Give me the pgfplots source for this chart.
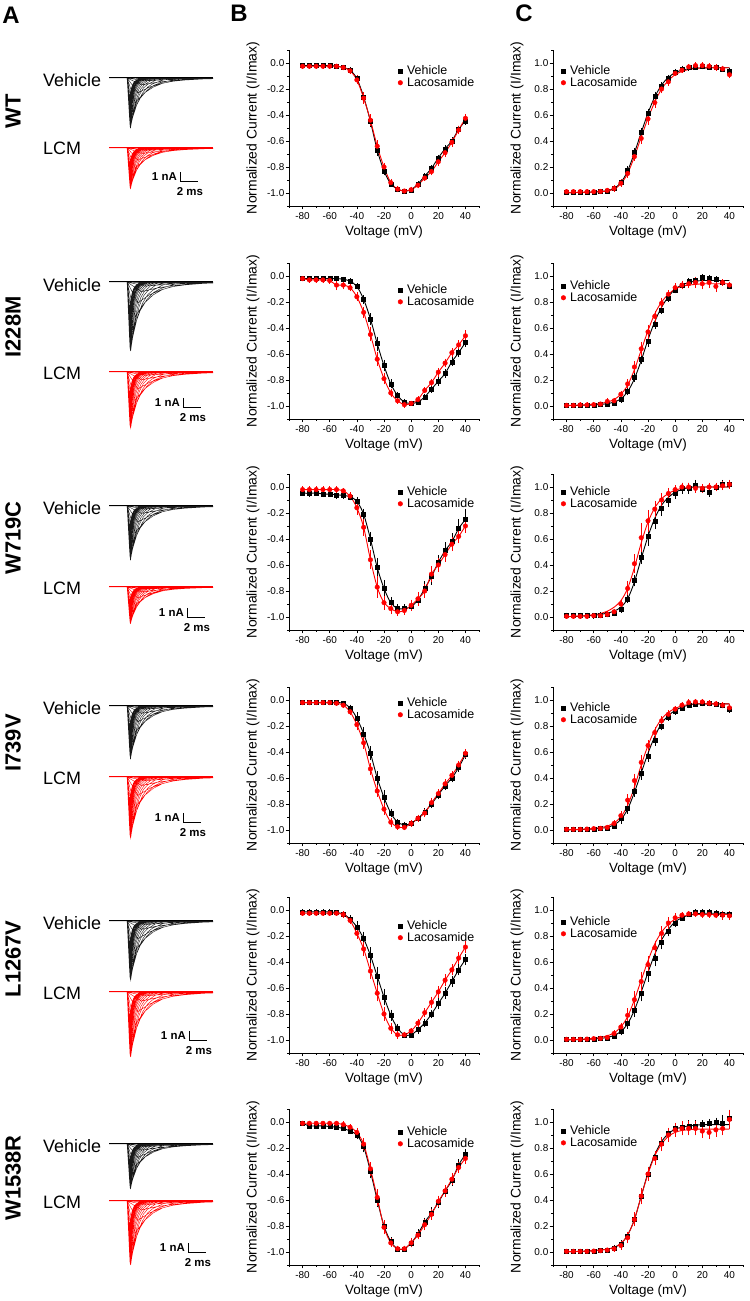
\documentclass[border=0pt]{standalone}
\usepackage{pgfplots}
\usepackage{pgfplotstable}
\pgfplotsset{compat=1.18}
\usepackage{fontspec}
\setmainfont{Liberation Sans}

% ---------- current traces (nA vs ms), one family ----------
\pgfplotstableread{
t i
0 0
11.5 0
nan nan
0 0
2 0
4.5 -0.08
7 -0.05
9.5 -0.03
11.5 -0.02
nan nan
0 0
2 0
4 -0.3
6.25 -0.18
8.5 -0.11
10.75 -0.066
11.5 -0.06
nan nan
0 0
2 0
3.6 -0.7
5.35 -0.43
7.1 -0.26
8.85 -0.15
10.6 -0.1
11.5 -0.08
nan nan
0 0
2 0
3.2 -1.5
4.5 -0.92
5.8 -0.56
7.1 -0.33
8.4 -0.21
11 -0.075
11.5 -0.06
nan nan
0 0
2 0
2.9 -2.5
3.9 -1.53
4.9 -0.93
5.9 -0.55
6.9 -0.35
8.9 -0.13
10.9 -0.045
11.5 -0.04
nan nan
0 0
2 0
2.7 -3.4
3.45 -2.07
4.2 -1.26
4.95 -0.75
5.7 -0.48
7.2 -0.17
8.7 -0.06
11.5 -0.01
nan nan
0 0
2 0
2.55 -4.2
3.13 -2.56
3.7 -1.55
4.28 -0.92
4.85 -0.59
6 -0.21
7.15 -0.08
11.5 0
nan nan
0 0
2 0
2.45 -4.7
2.9 -2.87
3.35 -1.74
3.8 -1.03
4.25 -0.66
5.15 -0.24
6.05 -0.09
11.5 0
nan nan
0 0
2 0
2.4 -5
2.78 -3.05
3.15 -1.85
3.53 -1.1
3.9 -0.7
4.65 -0.25
5.4 -0.09
11.5 0
nan nan
0 0
2 0
2.35 -4.95
2.68 -3.02
3 -1.83
3.33 -1.09
3.65 -0.69
4.3 -0.25
4.95 -0.09
11.5 0
nan nan
0 0
2 0
2.32 -4.8
2.61 -2.93
2.89 -1.78
3.18 -1.06
3.46 -0.67
4.03 -0.24
4.6 -0.09
11.5 0
nan nan
0 0
2 0
2.3 -4.55
2.55 -2.78
2.8 -1.68
3.05 -1.0
3.3 -0.64
3.8 -0.23
4.3 -0.08
11.5 0
nan nan
0 0
2 0
2.28 -4.3
2.51 -2.62
2.73 -1.59
2.96 -0.95
3.18 -0.6
3.63 -0.22
4.08 -0.08
11.5 0
nan nan
0 0
2 0
2.26 -4.0
2.47 -2.44
2.68 -1.48
2.89 -0.88
3.1 -0.56
3.52 -0.2
3.94 -0.07
11.5 0
nan nan
0 0
2 0
2.25 -3.7
2.45 -2.26
2.65 -1.37
2.85 -0.81
3.05 -0.52
3.45 -0.19
3.85 -0.07
11.5 0
nan nan
0 0
2 0
2.24 -3.3
2.43 -2.01
2.62 -1.22
2.81 -0.73
3.0 -0.46
3.38 -0.17
3.76 -0.06
11.5 0
nan nan
0 0
2 0
2.23 -2.9
2.41 -1.77
2.59 -1.07
2.77 -0.64
2.95 -0.41
3.31 -0.15
3.67 -0.05
11.5 0
nan nan
0 0
2 0
2.22 -2.55
2.4 -1.56
2.57 -0.94
2.75 -0.56
2.92 -0.36
3.27 -0.13
3.62 -0.05
11.5 0
nan nan
0 0
2 0
2.21 -2.2
2.38 -1.34
2.55 -0.81
2.72 -0.48
2.89 -0.31
3.23 -0.11
3.57 -0.04
11.5 0
}\traces
\pgfplotstableread{
t i
0 0
11.5 0
}\baseline

% ---------- I-V data (B) ----------
\pgfplotstableread{
v mv ev ml el
-80 -0.02 0.005 -0.025 0.005
-75 -0.02 0.005 -0.025 0.005
-70 -0.02 0.005 -0.025 0.005
-65 -0.02 0.005 -0.025 0.005
-60 -0.02 0.005 -0.025 0.005
-55 -0.025 0.005 -0.025 0.005
-50 -0.035 0.005 -0.035 0.008
-45 -0.055 0.008 -0.06 0.01
-40 -0.12 0.015 -0.13 0.02
-35 -0.26 0.02 -0.27 0.03
-30 -0.45 0.03 -0.44 0.03
-25 -0.67 0.03 -0.64 0.03
-20 -0.83 0.02 -0.80 0.02
-15 -0.93 0.01 -0.92 0.015
-10 -0.97 0.01 -0.97 0.01
-5 -0.985 0.005 -0.985 0.005
0 -0.975 0.005 -0.975 0.01
5 -0.93 0.01 -0.94 0.01
10 -0.87 0.01 -0.885 0.01
15 -0.81 0.01 -0.835 0.015
20 -0.73 0.01 -0.76 0.015
25 -0.66 0.015 -0.69 0.02
30 -0.60 0.015 -0.61 0.02
35 -0.51 0.015 -0.515 0.02
40 -0.445 0.015 -0.425 0.02
}\BI
\pgfplotstableread{
v mv ev ml el
-80 -0.02 0.005 -0.02 0.005
-75 -0.02 0.005 -0.03 0.01
-70 -0.02 0.005 -0.03 0.01
-65 -0.02 0.005 -0.03 0.01
-60 -0.02 0.005 -0.035 0.01
-55 -0.02 0.005 -0.07 0.025
-50 -0.025 0.005 -0.07 0.02
-45 -0.04 0.01 -0.09 0.015
-40 -0.08 0.01 -0.16 0.02
-35 -0.18 0.02 -0.28 0.03
-30 -0.33 0.03 -0.45 0.04
-25 -0.52 0.04 -0.64 0.04
-20 -0.69 0.03 -0.79 0.03
-15 -0.83 0.02 -0.90 0.02
-10 -0.92 0.01 -0.96 0.01
-5 -0.97 0.01 -0.99 0.01
0 -0.98 0.005 -0.98 0.005
5 -0.97 0.01 -0.95 0.01
10 -0.93 0.01 -0.88 0.01
15 -0.87 0.015 -0.82 0.015
20 -0.81 0.02 -0.74 0.02
25 -0.75 0.02 -0.67 0.02
30 -0.66 0.02 -0.59 0.02
35 -0.59 0.02 -0.53 0.02
40 -0.51 0.02 -0.46 0.03
}\BII
\pgfplotstableread{
v mv ev ml el
-80 -0.045 0.01 -0.02 0.01
-75 -0.05 0.01 -0.02 0.01
-70 -0.045 0.01 -0.02 0.01
-65 -0.055 0.01 -0.02 0.01
-60 -0.055 0.01 -0.02 0.01
-55 -0.06 0.015 -0.02 0.01
-50 -0.065 0.015 -0.03 0.01
-45 -0.075 0.015 -0.07 0.015
-40 -0.11 0.02 -0.16 0.04
-35 -0.21 0.03 -0.31 0.05
-30 -0.40 0.04 -0.56 0.06
-25 -0.62 0.06 -0.77 0.07
-20 -0.78 0.05 -0.89 0.04
-15 -0.89 0.03 -0.935 0.03
-10 -0.935 0.02 -0.96 0.02
-5 -0.935 0.02 -0.95 0.02
0 -0.92 0.02 -0.91 0.03
5 -0.87 0.03 -0.86 0.04
10 -0.78 0.04 -0.80 0.04
15 -0.69 0.05 -0.67 0.05
20 -0.58 0.04 -0.60 0.04
25 -0.49 0.05 -0.52 0.04
30 -0.42 0.05 -0.44 0.04
35 -0.32 0.06 -0.38 0.04
40 -0.25 0.07 -0.30 0.04
}\BIII
\pgfplotstableread{
v mv ev ml el
-80 -0.02 0.005 -0.02 0.005
-75 -0.02 0.005 -0.02 0.005
-70 -0.02 0.005 -0.02 0.005
-65 -0.02 0.005 -0.02 0.005
-60 -0.02 0.005 -0.02 0.005
-55 -0.02 0.005 -0.025 0.005
-50 -0.025 0.005 -0.04 0.01
-45 -0.06 0.01 -0.09 0.015
-40 -0.14 0.03 -0.19 0.03
-35 -0.26 0.04 -0.33 0.03
-30 -0.41 0.04 -0.53 0.03
-25 -0.60 0.04 -0.70 0.03
-20 -0.75 0.04 -0.84 0.03
-15 -0.87 0.02 -0.94 0.02
-10 -0.94 0.01 -0.975 0.01
-5 -0.96 0.01 -0.98 0.01
0 -0.95 0.01 -0.95 0.01
5 -0.91 0.01 -0.91 0.015
10 -0.86 0.015 -0.87 0.02
15 -0.80 0.02 -0.79 0.02
20 -0.73 0.02 -0.72 0.02
25 -0.66 0.02 -0.645 0.02
30 -0.60 0.02 -0.58 0.02
35 -0.52 0.02 -0.50 0.02
40 -0.42 0.02 -0.41 0.02
}\BIV
\pgfplotstableread{
v mv ev ml el
-80 -0.015 0.005 -0.025 0.005
-75 -0.015 0.005 -0.025 0.005
-70 -0.015 0.005 -0.025 0.005
-65 -0.015 0.005 -0.025 0.005
-60 -0.015 0.005 -0.025 0.005
-55 -0.02 0.005 -0.025 0.005
-50 -0.03 0.005 -0.035 0.01
-45 -0.07 0.015 -0.08 0.015
-40 -0.13 0.03 -0.18 0.03
-35 -0.22 0.04 -0.30 0.04
-30 -0.35 0.05 -0.47 0.05
-25 -0.51 0.06 -0.64 0.05
-20 -0.67 0.05 -0.80 0.04
-15 -0.81 0.03 -0.91 0.03
-10 -0.91 0.02 -0.96 0.02
-5 -0.96 0.01 -0.96 0.01
0 -0.96 0.01 -0.93 0.01
5 -0.92 0.02 -0.87 0.02
10 -0.87 0.02 -0.79 0.02
15 -0.80 0.02 -0.71 0.03
20 -0.72 0.03 -0.63 0.03
25 -0.64 0.03 -0.54 0.03
30 -0.55 0.03 -0.46 0.03
35 -0.46 0.03 -0.37 0.03
40 -0.38 0.03 -0.285 0.03
}\BV
\pgfplotstableread{
v mv ev ml el
-80 -0.01 0.005 -0.01 0.005
-75 -0.03 0.005 -0.01 0.005
-70 -0.03 0.005 -0.01 0.005
-65 -0.03 0.005 -0.01 0.005
-60 -0.035 0.005 -0.01 0.005
-55 -0.04 0.005 -0.01 0.005
-50 -0.05 0.005 -0.02 0.01
-45 -0.07 0.01 -0.04 0.01
-40 -0.10 0.02 -0.08 0.02
-35 -0.19 0.03 -0.17 0.03
-30 -0.38 0.04 -0.36 0.04
-25 -0.60 0.04 -0.58 0.05
-20 -0.80 0.03 -0.81 0.04
-15 -0.92 0.02 -0.93 0.02
-10 -0.975 0.01 -0.975 0.01
-5 -0.975 0.01 -0.975 0.01
0 -0.93 0.02 -0.93 0.02
5 -0.86 0.02 -0.87 0.02
10 -0.77 0.02 -0.79 0.03
15 -0.70 0.03 -0.71 0.03
20 -0.62 0.03 -0.61 0.03
25 -0.53 0.03 -0.53 0.03
30 -0.45 0.03 -0.44 0.03
35 -0.33 0.03 -0.35 0.03
40 -0.25 0.03 -0.28 0.03
}\BVI

% ---------- conductance data (C) ----------
\pgfplotstableread{
v mv ev fv ml el fl
-80 0.005 0.005 0.002 0.01 0.005 0.002
-75 0.005 0.005 0.003 0.01 0.005 0.003
-70 0.005 0.005 0.004 0.01 0.005 0.004
-65 0.005 0.005 0.006 0.01 0.005 0.005
-60 0.007 0.005 0.008 0.01 0.005 0.007
-55 0.01 0.005 0.012 0.012 0.005 0.01
-50 0.015 0.005 0.018 0.02 0.005 0.015
-45 0.035 0.008 0.035 0.035 0.01 0.03
-40 0.08 0.01 0.08 0.075 0.015 0.07
-35 0.175 0.015 0.17 0.15 0.02 0.15
-30 0.31 0.02 0.31 0.28 0.02 0.28
-25 0.465 0.02 0.465 0.42 0.03 0.43
-20 0.615 0.02 0.615 0.57 0.03 0.575
-15 0.745 0.02 0.74 0.695 0.025 0.70
-10 0.825 0.015 0.83 0.80 0.02 0.80
-5 0.885 0.01 0.89 0.855 0.015 0.865
0 0.93 0.01 0.925 0.92 0.01 0.91
5 0.955 0.01 0.945 0.945 0.01 0.935
10 0.965 0.01 0.955 0.97 0.01 0.95
15 0.97 0.01 0.96 0.98 0.01 0.958
20 0.975 0.01 0.962 0.98 0.01 0.962
25 0.97 0.01 0.963 0.975 0.01 0.963
30 0.965 0.01 0.963 0.965 0.01 0.963
35 0.955 0.01 0.963 0.955 0.01 0.963
40 0.94 0.01 0.963 0.91 0.015 0.963
}\CI
\pgfplotstableread{
v mv ev fv ml el fl
-80 0.005 0.005 0.003 0.005 0.005 0.004
-75 0.005 0.005 0.004 0.005 0.005 0.005
-70 0.005 0.005 0.005 0.008 0.005 0.007
-65 0.005 0.005 0.006 0.008 0.005 0.01
-60 0.007 0.005 0.008 0.01 0.005 0.014
-55 0.01 0.005 0.012 0.015 0.005 0.02
-50 0.015 0.005 0.018 0.035 0.01 0.03
-45 0.02 0.005 0.03 0.04 0.01 0.05
-40 0.05 0.01 0.055 0.09 0.015 0.09
-35 0.11 0.015 0.11 0.17 0.02 0.16
-30 0.22 0.02 0.21 0.30 0.03 0.28
-25 0.36 0.025 0.35 0.44 0.04 0.43
-20 0.50 0.03 0.51 0.57 0.04 0.58
-15 0.63 0.025 0.65 0.69 0.03 0.71
-10 0.74 0.02 0.76 0.79 0.03 0.80
-5 0.83 0.015 0.84 0.86 0.02 0.86
0 0.89 0.01 0.90 0.91 0.02 0.90
5 0.93 0.01 0.93 0.93 0.02 0.92
10 0.96 0.01 0.95 0.94 0.02 0.93
15 0.97 0.01 0.96 0.95 0.03 0.935
20 0.99 0.01 0.965 0.94 0.03 0.94
25 0.985 0.01 0.965 0.95 0.03 0.94
30 0.975 0.01 0.965 0.92 0.03 0.94
35 0.95 0.01 0.965 0.95 0.01 0.94
40 0.925 0.01 0.965 0.93 0.01 0.94
}\CII
\pgfplotstableread{
v mv ev fv ml el fl
-80 0.01 0.01 0.003 0.005 0.005 0.003
-75 0.01 0.01 0.004 0.005 0.005 0.005
-70 0.01 0.01 0.006 0.005 0.005 0.008
-65 0.01 0.01 0.009 0.005 0.005 0.012
-60 0.01 0.01 0.013 0.01 0.005 0.018
-55 0.015 0.01 0.02 0.01 0.005 0.027
-50 0.02 0.01 0.03 0.02 0.01 0.045
-45 0.03 0.01 0.045 0.04 0.01 0.075
-40 0.06 0.015 0.075 0.10 0.02 0.125
-35 0.14 0.02 0.14 0.22 0.04 0.22
-30 0.28 0.03 0.27 0.41 0.06 0.38
-25 0.46 0.04 0.45 0.61 0.10 0.57
-20 0.62 0.06 0.62 0.74 0.07 0.73
-15 0.74 0.05 0.76 0.83 0.05 0.84
-10 0.84 0.05 0.86 0.90 0.04 0.91
-5 0.90 0.04 0.92 0.95 0.03 0.95
0 0.95 0.03 0.96 0.98 0.02 0.975
5 0.99 0.03 0.98 1.0 0.02 0.99
10 0.99 0.03 0.995 1.0 0.02 0.995
15 1.01 0.03 1.0 0.99 0.02 1.0
20 0.98 0.01 1.0 0.99 0.02 1.0
25 0.96 0.02 1.0 1.0 0.02 1.0
30 1.0 0.01 1.0 1.0 0.02 1.0
35 1.02 0.02 1.0 1.01 0.02 1.0
40 1.02 0.02 1.0 1.02 0.02 1.0
}\CIII
\pgfplotstableread{
v mv ev fv ml el fl
-80 0.005 0.005 0.001 0.005 0.005 0.002
-75 0.005 0.005 0.002 0.005 0.005 0.003
-70 0.005 0.005 0.003 0.005 0.005 0.005
-65 0.005 0.005 0.005 0.007 0.005 0.008
-60 0.007 0.005 0.008 0.01 0.005 0.012
-55 0.01 0.005 0.013 0.013 0.005 0.019
-50 0.015 0.005 0.02 0.02 0.005 0.03
-45 0.03 0.01 0.04 0.05 0.01 0.055
-40 0.09 0.03 0.08 0.11 0.02 0.1
-35 0.17 0.03 0.16 0.23 0.03 0.19
-30 0.30 0.03 0.29 0.38 0.04 0.33
-25 0.44 0.04 0.44 0.52 0.04 0.50
-20 0.57 0.03 0.59 0.65 0.03 0.65
-15 0.69 0.03 0.72 0.75 0.03 0.77
-10 0.80 0.02 0.82 0.84 0.02 0.855
-5 0.87 0.015 0.88 0.89 0.02 0.905
0 0.91 0.01 0.92 0.93 0.01 0.935
5 0.94 0.01 0.945 0.96 0.01 0.955
10 0.96 0.01 0.96 0.98 0.01 0.965
15 0.97 0.01 0.97 0.985 0.01 0.97
20 0.975 0.01 0.97 0.985 0.01 0.97
25 0.975 0.01 0.97 0.975 0.01 0.97
30 0.97 0.01 0.97 0.97 0.01 0.97
35 0.96 0.01 0.97 0.96 0.01 0.97
40 0.93 0.015 0.97 0.94 0.015 0.97
}\CIV
\pgfplotstableread{
v mv ev fv ml el fl
-80 0.005 0.005 0.001 0.005 0.005 0.002
-75 0.005 0.005 0.002 0.005 0.005 0.003
-70 0.005 0.005 0.003 0.005 0.005 0.005
-65 0.005 0.005 0.005 0.007 0.005 0.008
-60 0.007 0.005 0.008 0.01 0.005 0.013
-55 0.01 0.005 0.012 0.013 0.005 0.02
-50 0.015 0.005 0.02 0.02 0.005 0.032
-45 0.03 0.01 0.035 0.05 0.01 0.055
-40 0.07 0.02 0.065 0.10 0.02 0.10
-35 0.13 0.03 0.125 0.19 0.04 0.18
-30 0.23 0.04 0.23 0.31 0.05 0.31
-25 0.36 0.05 0.37 0.45 0.06 0.46
-20 0.51 0.05 0.52 0.58 0.05 0.61
-15 0.63 0.05 0.66 0.71 0.04 0.74
-10 0.75 0.04 0.77 0.82 0.04 0.83
-5 0.84 0.03 0.85 0.90 0.03 0.89
0 0.90 0.02 0.91 0.94 0.02 0.93
5 0.94 0.01 0.94 0.96 0.01 0.95
10 0.97 0.01 0.96 0.97 0.01 0.96
15 0.98 0.01 0.97 0.97 0.01 0.965
20 0.985 0.01 0.975 0.965 0.01 0.965
25 0.98 0.01 0.975 0.965 0.01 0.965
30 0.975 0.01 0.975 0.96 0.01 0.965
35 0.97 0.01 0.975 0.96 0.02 0.965
40 0.965 0.01 0.975 0.955 0.02 0.965
}\CV
\pgfplotstableread{
v mv ev fv ml el fl
-80 0.005 0.005 0.002 0.005 0.005 0.002
-75 0.005 0.005 0.003 0.005 0.005 0.003
-70 0.005 0.005 0.005 0.005 0.005 0.005
-65 0.005 0.005 0.007 0.005 0.005 0.007
-60 0.007 0.005 0.01 0.007 0.005 0.01
-55 0.01 0.005 0.015 0.01 0.005 0.015
-50 0.015 0.005 0.022 0.015 0.005 0.022
-45 0.03 0.01 0.035 0.025 0.01 0.035
-40 0.06 0.015 0.065 0.05 0.02 0.065
-35 0.12 0.02 0.13 0.11 0.03 0.13
-30 0.25 0.03 0.25 0.25 0.04 0.25
-25 0.43 0.04 0.43 0.43 0.05 0.43
-20 0.60 0.04 0.61 0.60 0.04 0.60
-15 0.73 0.03 0.75 0.72 0.04 0.74
-10 0.84 0.03 0.85 0.83 0.04 0.83
-5 0.91 0.03 0.91 0.90 0.04 0.89
0 0.95 0.03 0.945 0.94 0.04 0.92
5 0.96 0.03 0.96 0.95 0.04 0.935
10 0.97 0.03 0.97 0.95 0.04 0.94
15 0.97 0.03 0.975 0.95 0.04 0.945
20 0.98 0.02 0.98 0.93 0.04 0.945
25 0.99 0.02 0.98 0.92 0.04 0.945
30 1.0 0.02 0.98 0.94 0.04 0.945
35 0.99 0.05 0.98 0.95 0.04 0.945
40 1.03 0.05 0.98 1.02 0.06 0.945
}\CVI

\pgfplotsset{
  basax/.style={scale only axis, width=190bp, height=156bp,
    axis lines=left, axis line style={-, line width=0.7bp},
    xmin=-90, xmax=50, xtick={-80,-60,-40,-20,0,20,40},
    xticklabels={-80,-60,-40,-20,0,20,40},
    minor xtick={-90,-70,-50,-30,-10,10,30,50},
    tick align=outside, major tick length=3.5bp, minor tick length=2bp,
    tick style={line width=0.7bp, black},
    tick label style={font=\fontsize{10}{11}\selectfont},
    yticklabel style={inner sep=1bp},
    xlabel={Voltage (mV)}, ylabel={Normalized Current (I/Imax)},
    xlabel style={font=\fontsize{13.5}{14}\selectfont, at={(axis description cs:0.5,-0.165)}, anchor=center},
    ylabel style={font=\fontsize{14}{15}\selectfont, at={(axis description cs:-0.19,0.5)}, anchor=center},
    legend cell align=left,
    legend style={draw=none, fill=none, inner sep=0pt, anchor=north west,
      font=\fontsize{12.5}{13}\selectfont, nodes={inner sep=0.6bp},
      /tikz/every odd column/.append style={column sep=3bp}},
    anchor=north west},
  ivax/.style={basax, ymin=-1.1, ymax=0.1, ytick={-1,-0.8,-0.6,-0.4,-0.2,0},
    yticklabels={-1.0,-0.8,-0.6,-0.4,-0.2,0.0},
    minor ytick={-1.1,-0.9,-0.7,-0.5,-0.3,-0.1,0.1}},
  gvax/.style={basax, ymin=-0.1, ymax=1.1, ytick={0,0.2,0.4,0.6,0.8,1},
    yticklabels={0.0,0.2,0.4,0.6,0.8,1.0},
    minor ytick={-0.1,0.1,0.3,0.5,0.7,0.9,1.1}},
  vfit/.style={black, line width=0.9bp, smooth, no marks, forget plot},
  lfit/.style={red, line width=0.9bp, smooth, no marks, forget plot},
  vpts/.style={black, only marks, mark=square*, mark size=2bp,
    legend image code/.code={\draw[##1] plot coordinates {(3bp,0bp)}; \path (0bp,0bp) (6bp,0bp);},
    error bars/.cd, y dir=both, y explicit, error bar style={line width=0.5bp},
    error mark options={mark size=1.8bp, line width=0.5bp}},
  lpts/.style={red, only marks, mark=*, mark size=2.3bp,
    legend image code/.code={\draw[##1] plot coordinates {(3bp,0bp)}; \path (0bp,0bp) (6bp,0bp);},
    error bars/.cd, y dir=both, y explicit, error bar style={line width=0.5bp},
    error mark options={mark size=1.8bp, line width=0.5bp}},
  traceax/.style={scale only axis, width=104bp, hide axis, clip=false,
    xmin=0, xmax=11.5, ymin=-5, ymax=0, anchor=north west},
}

% #1 top y (bp), #2 table, #3 legend y (axis description)
\newcommand{\panelB}[3]{%
\begin{axis}[ivax, at={(289bp,#1bp)}, legend style={at={(axis description cs:0.568,#3)}}]
\addplot[vfit] table[x=v,y=mv]{#2};
\addplot[lfit] table[x=v,y=ml]{#2};
\addplot[vpts] table[x=v,y=mv,y error=ev]{#2};
\addlegendentry{Vehicle}
\addplot[lpts] table[x=v,y=ml,y error=el]{#2};
\addlegendentry{Lacosamide}
\end{axis}}
\newcommand{\panelC}[3]{%
\begin{axis}[gvax, at={(553bp,#1bp)}, legend style={at={(axis description cs:0.037,#3)}}]
\addplot[vfit] table[x=v,y=fv]{#2};
\addplot[lfit] table[x=v,y=fl]{#2};
\addplot[vpts] table[x=v,y=mv,y error=ev]{#2};
\addlegendentry{Vehicle}
\addplot[lpts] table[x=v,y=ml,y error=el]{#2};
\addlegendentry{Lacosamide}
\end{axis}}
% #1 vehicle top, #2 vehicle height, #3 lcm top, #4 lcm height
\newcommand{\panelA}[4]{%
\begin{axis}[traceax, at={(109bp,#1bp)}, height=#2bp]
\addplot[black!90, line width=0.4bp, unbounded coords=jump] table[x=t,y=i]{\traces};
\addplot[black, line width=1bp] table[x=t,y=i]{\baseline};
\end{axis}
\begin{axis}[traceax, at={(109bp,#3bp)}, height=#4bp]
\addplot[red, line width=0.4bp, unbounded coords=jump] table[x=t,y=i]{\traces};
\addplot[red, line width=1bp] table[x=t,y=i]{\baseline};
\end{axis}}
% scale bar: #1 x of vertical, #2 y of bottom (bp from page bottom)
\newcommand{\scalebar}[2]{%
\draw[line width=1bp] (#1bp,#2bp+10bp) -- (#1bp,#2bp) -- (#1bp+18bp,#2bp);
\node[anchor=east, inner sep=0pt, font=\bfseries\fontsize{11.5}{12}\selectfont] at (#1bp-3bp,#2bp+5bp) {1 nA};
\node[anchor=center, inner sep=0pt, font=\bfseries\fontsize{11.5}{12}\selectfont] at (#1bp+10bp,#2bp-10bp) {2 ms};}
\newcommand{\rowlab}[2]{%
\node[rotate=90, inner sep=0pt, font=\bfseries\fontsize{22}{23}\selectfont] at (13bp,#1bp) {#2};}
\newcommand{\vl}[2]{%
\node[anchor=west, inner sep=0pt, font=\fontsize{18}{19}\selectfont] at (43bp,#1bp) {Vehicle};
\node[anchor=west, inner sep=0pt, font=\fontsize{18}{19}\selectfont] at (43bp,#2bp) {LCM};}

\begin{document}
\begin{tikzpicture}
\path[use as bounding box] (0,0) rectangle (750bp,1301bp);

\node[font=\bfseries\fontsize{24}{25}\selectfont, inner sep=0pt] at (11bp,1286bp) {A};
\node[font=\bfseries\fontsize{24}{25}\selectfont, inner sep=0pt] at (239bp,1288bp) {B};
\node[font=\bfseries\fontsize{24}{25}\selectfont, inner sep=0pt] at (524bp,1288bp) {C};

% row 1 WT
\rowlab{1190}{WT}
\vl{1221}{1153}
\panelA{1223}{49}{1153}{40}
\scalebar{180}{1119}
\panelB{1251}{\BI}{0.904}
\panelC{1251}{\CI}{0.904}

% row 2 I228M
\rowlab{974}{I228M}
\vl{1016}{928}
\panelA{1019}{69}{929}{56}
\scalebar{183}{893}
\panelB{1038}{\BII}{0.865}
\panelC{1038}{\CII}{0.891}

% row 3 W719C
\rowlab{763}{W719C}
\vl{793}{713}
\panelA{795}{53}{714}{36}
\scalebar{187}{683}
\panelB{827}{\BIII}{0.923}
\panelC{827}{\CIII}{0.923}

% row 4 I739V
\rowlab{558}{I739V}
\vl{593}{523}
\panelA{595}{52}{524}{61}
\scalebar{183}{478}
\panelB{614}{\BIV}{0.936}
\panelC{614}{\CIV}{0.904}

% row 5 L1267V
\rowlab{342}{L1267V}
\vl{378}{308}
\panelA{380}{59}{309}{65}
\scalebar{189}{260}
\panelB{404}{\BV}{0.853}
\panelC{404}{\CV}{0.878}

% row 6 W1538R
\rowlab{123}{W1538R}
\vl{155}{99}
\panelA{157}{44}{100}{64}
\scalebar{188}{48}
\panelB{192}{\BVI}{0.891}
\panelC{192}{\CVI}{0.897}
\end{tikzpicture}
\end{document}
